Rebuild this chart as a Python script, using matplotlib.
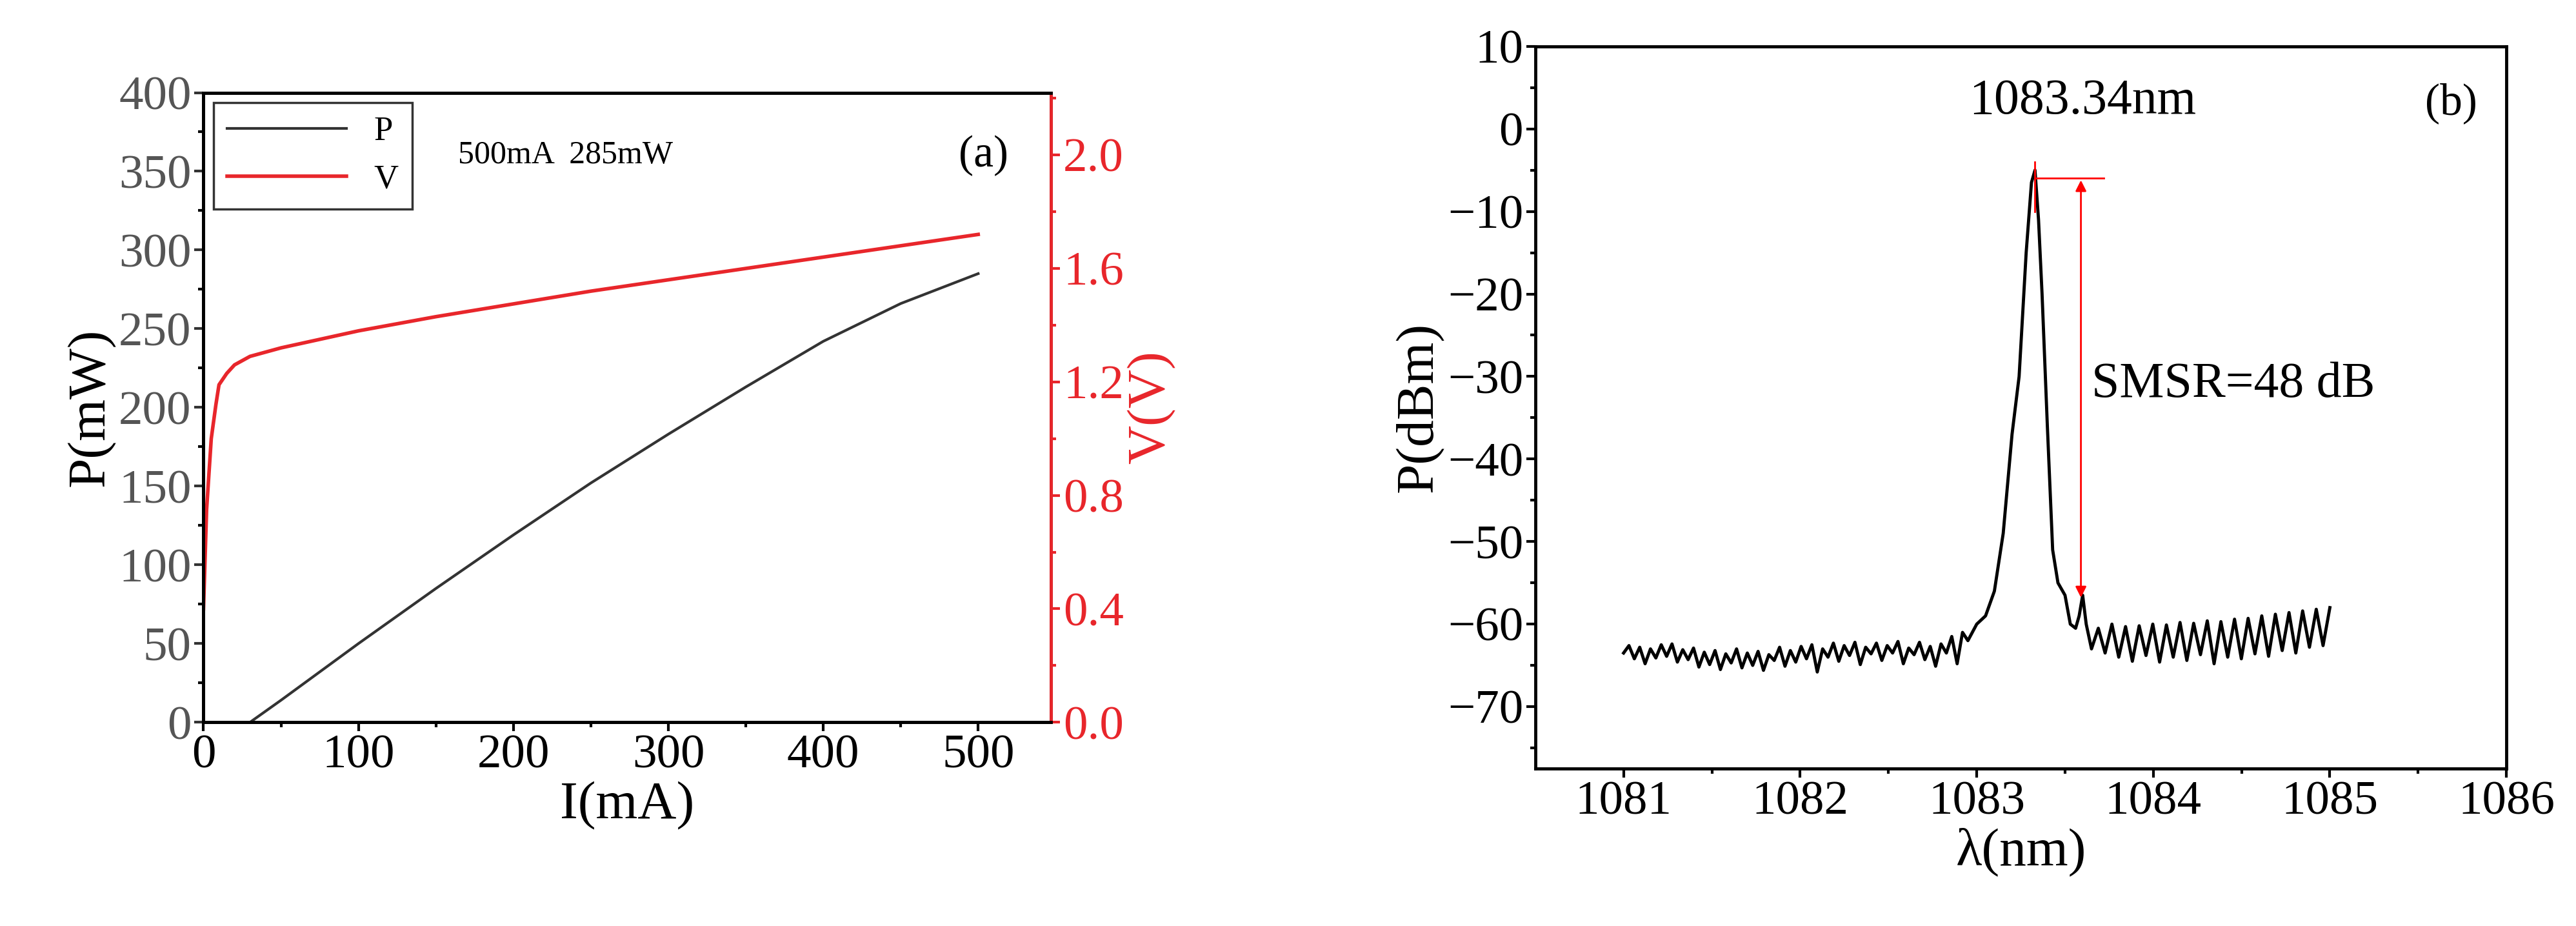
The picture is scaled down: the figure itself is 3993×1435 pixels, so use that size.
import matplotlib
matplotlib.use("Agg")
import matplotlib.pyplot as plt
import numpy as np

plt.rcParams['font.family'] = ['Liberation Serif', 'DejaVu Serif']

# Panel (a) data
I_P = [30, 50, 100, 150, 200, 250, 300, 350, 400, 450, 500]
P_mW = [0, 14, 50, 85, 119, 152, 183, 213, 242, 266, 285]
I_V = [0, 2, 5, 8, 10, 15, 20, 30, 50, 100, 150, 200, 250, 300, 350, 400, 450, 500]
V_V = [0.40, 0.75, 1.00, 1.12, 1.19, 1.23, 1.26, 1.29, 1.32, 1.38, 1.43, 1.475, 1.52, 1.56, 1.60, 1.64, 1.68, 1.72]

# Panel (b) data
base_left = [-63.5, -62.6, -64.2, -62.8, -64.8, -63.0, -64.1, -62.5, -63.9, -62.4, -64.6, -63.1,
             -64.3, -62.9, -65.2, -63.4, -64.9, -63.2, -65.5, -63.6, -64.7, -63.0, -65.3, -63.5,
             -65.0, -63.3, -65.6, -63.7, -64.4, -62.8, -65.1, -63.2, -64.6, -62.7, -64.2, -62.5,
             -65.8, -63.0, -64.0, -62.3, -64.5, -62.6, -63.8, -62.2, -64.9, -62.8, -63.6, -62.3,
             -64.4, -62.6, -63.5, -62.1, -64.8, -62.9, -63.7, -62.2, -64.3, -62.7, -65.1, -62.4,
             -63.5, -61.5, -64.8, -61.0, -62.0]
wl_left = list(np.round(np.linspace(1081.0, 1082.95, len(base_left)), 4))
peak_wl = [1083.0, 1083.05, 1083.1, 1083.15, 1083.2, 1083.24, 1083.28, 1083.31, 1083.33, 1083.35,
           1083.37, 1083.4, 1083.43, 1083.46, 1083.5, 1083.53, 1083.56, 1083.58, 1083.6, 1083.62]
peak_db = [-60.0, -59.0, -56.0, -49.0, -37.0, -30.0, -15.0, -6.5, -5.0, -11.0,
           -20.0, -36.0, -51.0, -55.0, -56.5, -60.0, -60.5, -59.0, -56.5, -60.0]
base_right = [-63.0, -60.5, -63.5, -60.0, -64.0, -60.3, -64.5, -60.2, -63.8, -60.0, -64.6, -60.1,
              -64.0, -59.8, -64.4, -59.9, -63.7, -59.6, -64.8, -59.7, -64.0, -59.4, -64.2, -59.3,
              -63.6, -59.0, -63.9, -58.8, -63.2, -58.6, -63.5, -58.4, -62.8, -58.2, -62.6, -58.0]
wl_right = list(np.round(np.linspace(1083.65, 1085.0, len(base_right)), 4))
wl = wl_left + peak_wl + wl_right
pdbm = base_left + peak_db + base_right

fig = plt.figure(figsize=(39.93, 14.35), dpi=100)

# (a)
ax = fig.add_axes([0.079, 0.22, 0.329, 0.68])
ax2 = ax.twinx()
lp, = ax.plot(I_P, P_mW, color='#333333', lw=3, label='P')
lv, = ax2.plot(I_V, V_V, color='#e8262b', lw=4, label='V')
ax.set_xlim(0, 547)
ax.set_ylim(0, 400)
ax2.set_ylim(0, 2.22)
ax.set_xticks([0, 100, 200, 300, 400, 500])
ax.set_xticks([50, 150, 250, 350, 450], minor=True)
ax.set_yticks(range(0, 401, 50))
ax.set_yticks(range(25, 400, 50), minor=True)
ax2.set_yticks([0.0, 0.4, 0.8, 1.2, 1.6, 2.0])
ax2.set_yticks([0.2, 0.6, 1.0, 1.4, 1.8, 2.2], minor=True)
ax2.set_yticklabels(['0.0', '0.4', '0.8', '1.2', '1.6', '2.0'])
ax.tick_params(axis='both', which='major', labelsize=54, length=10, width=3)
ax.tick_params(axis='both', which='minor', length=6, width=3)
ax.tick_params(axis='y', colors='#333333', labelcolor='#555555')
ax2.tick_params(axis='y', which='major', labelsize=54, length=10, width=3, colors='#e8262b')
ax2.tick_params(axis='y', which='minor', length=6, width=3, colors='#e8262b')
for s in ax.spines.values():
    s.set_linewidth(3.5)
for s in ax2.spines.values():
    s.set_linewidth(3.5)
ax2.spines['right'].set_color('#e8262b')
ax.set_xlabel('I(mA)', fontsize=60)
ax.set_ylabel('P(mW)', fontsize=60)
ax2.set_ylabel('V(V)', fontsize=60, color='#e8262b')
leg = ax.legend(handles=[lp, lv], loc='upper left', fontsize=38, frameon=True, fancybox=False,
                edgecolor='black', borderaxespad=0.3, handlelength=3.5, labelspacing=0.5)
leg.get_frame().set_linewidth(2.5)
ax.text(0.3, 0.9, '500mA  285mW', transform=ax.transAxes, fontsize=36, va='center')
ax.text(0.95, 0.9, '(a)', transform=ax.transAxes, fontsize=50, ha='right', va='center')

# (b)
bx = fig.add_axes([0.596, 0.17, 0.377, 0.78])
bx.plot(wl, pdbm, color='black', lw=3.5)
bx.set_xlim(1080.5, 1086)
bx.set_ylim(-77.5, 10)
bx.set_xticks([1081, 1082, 1083, 1084, 1085, 1086])
bx.set_xticks([1081.5, 1082.5, 1083.5, 1084.5, 1085.5], minor=True)
bx.set_yticks(range(-70, 11, 10))
bx.set_yticks(range(-75, 10, 10), minor=True)
bx.tick_params(axis='both', which='major', labelsize=54, length=10, width=3)
bx.tick_params(axis='both', which='minor', length=6, width=3)
for s in bx.spines.values():
    s.set_linewidth(3.5)
bx.set_xlabel('λ(nm)', fontsize=60)
bx.set_ylabel('P(dBm)', fontsize=60)
bx.text(1083.6, 0.5, '1083.34nm', fontsize=56, ha='center', va='bottom')
bx.text(0.97, 0.95, '(b)', transform=bx.transAxes, fontsize=50, ha='right', va='top')
bx.plot([1083.33, 1083.33], [-4, -10], color='red', lw=2)
bx.plot([1083.33, 1083.72], [-6, -6], color='red', lw=2)
bx.annotate('', xy=(1083.59, -6), xytext=(1083.59, -57), color='red',
            arrowprops=dict(arrowstyle='<|-|>', color='red', lw=2, mutation_scale=25))
bx.text(1083.65, -31, 'SMSR=48 dB', fontsize=56, va='center')

fig.savefig('out.png', dpi=100)
